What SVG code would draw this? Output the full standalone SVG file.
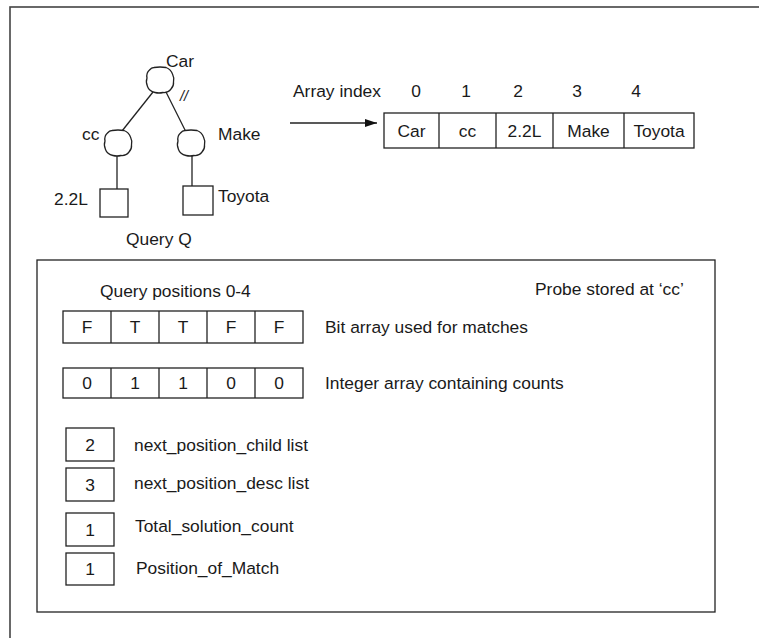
<svg xmlns="http://www.w3.org/2000/svg" xmlns:xlink="http://www.w3.org/1999/xlink" width="759" height="638" viewBox="0 0 759 638">
<style>
text { font-family: "Liberation Sans", Arial, sans-serif; font-size: 17.4px; fill: #1a1a1a; }
.c { text-anchor: middle; }
.box { fill: #fff; stroke: #222; stroke-width: 1.3; }
.ln { fill: none; stroke: #222; stroke-width: 1.3; }
.frame { fill: none; stroke: #444; stroke-width: 1.6; }
</style>
<defs>
<path id="blob" d="M -6,-12.5 Q 0,-13.5 6,-12.5 Q 11,-10.5 12.5,-6 Q 14.5,-2 13.5,2 Q 14,6 11,9 Q 8,13 3,12.5 Q -1,13.5 -5,12.5 Q -11,11 -12.5,6.5 Q -14.5,2 -13,-2 Q -14,-7 -10.5,-10 Q -8.5,-12.5 -6,-12.5 Z"/>
<marker id="ah" viewBox="0 0 12 8" refX="12" refY="4" markerWidth="12" markerHeight="8" markerUnits="userSpaceOnUse" orient="auto">
<path d="M0,0 L12,4 L0,8 Z" fill="#111"/>
</marker>
</defs>
<rect class="frame" x="10" y="7" width="800" height="700"/>

<g id="connectors">
<line class="ln" x1="153" y1="92" x2="122" y2="131"/>
<line class="ln" x1="166" y1="92" x2="186" y2="132"/>
<line class="ln" x1="117" y1="155" x2="117" y2="189"/>
<line class="ln" x1="192" y1="155" x2="192" y2="186"/>
<line class="ln" x1="290" y1="123" x2="377" y2="123" marker-end="url(#ah)"/>
<text x="180" y="101" style="font-size:14.5px;font-style:italic">//</text>
</g>

<g id="node-car">
<use xlink:href="#blob" href="#blob" class="box" transform="translate(160,80)"/>
<text x="166" y="67">Car</text>
</g>
<g id="node-cc">
<use xlink:href="#blob" href="#blob" class="box" transform="translate(118,143)"/>
<text x="82" y="140">cc</text>
</g>
<g id="node-make">
<use xlink:href="#blob" href="#blob" class="box" transform="translate(191,143)"/>
<text x="218" y="140">Make</text>
</g>
<g id="node-22l">
<rect class="box" x="100" y="189" width="28" height="28"/>
<text x="54" y="205">2.2L</text>
</g>
<g id="node-toyota">
<rect class="box" x="183" y="186" width="30" height="29"/>
<text x="218" y="202">Toyota</text>
</g>
<text x="126" y="245">Query Q</text>

<g id="array-index">
<text x="293" y="97">Array index</text>
<text class="c" x="416" y="97">0</text>
<text class="c" x="466" y="97">1</text>
<text class="c" x="518" y="97">2</text>
<text class="c" x="577" y="97">3</text>
<text class="c" x="636" y="97">4</text>
<rect class="box" x="384" y="113" width="310" height="35"/>
<line class="ln" x1="439" y1="113" x2="439" y2="148"/>
<line class="ln" x1="496" y1="113" x2="496" y2="148"/>
<line class="ln" x1="553" y1="113" x2="553" y2="148"/>
<line class="ln" x1="624" y1="113" x2="624" y2="148"/>
<text class="c" x="411.5" y="137">Car</text>
<text class="c" x="467.5" y="137">cc</text>
<text class="c" x="524.5" y="137">2.2L</text>
<text class="c" x="588.5" y="137">Make</text>
<text class="c" x="659" y="137">Toyota</text>
</g>

<g id="probe">
<rect class="box" x="37" y="260" width="678" height="352"/>
<text x="100" y="297">Query positions 0-4</text>
<text x="535" y="295">Probe stored at ‘cc’</text>
</g>

<g id="bit-array">
<rect class="box" x="63" y="311" width="240" height="32"/>
<line class="ln" x1="111" y1="311" x2="111" y2="343"/>
<line class="ln" x1="159" y1="311" x2="159" y2="343"/>
<line class="ln" x1="207" y1="311" x2="207" y2="343"/>
<line class="ln" x1="255" y1="311" x2="255" y2="343"/>
<text class="c" x="87" y="333">F</text>
<text class="c" x="135" y="333">T</text>
<text class="c" x="183" y="333">T</text>
<text class="c" x="231" y="333">F</text>
<text class="c" x="279" y="333">F</text>
<text x="325" y="333">Bit array used for matches</text>
</g>

<g id="int-array">
<rect class="box" x="63" y="368" width="240" height="30"/>
<line class="ln" x1="111" y1="368" x2="111" y2="398"/>
<line class="ln" x1="159" y1="368" x2="159" y2="398"/>
<line class="ln" x1="207" y1="368" x2="207" y2="398"/>
<line class="ln" x1="255" y1="368" x2="255" y2="398"/>
<text class="c" x="87" y="389">0</text>
<text class="c" x="135" y="389">1</text>
<text class="c" x="183" y="389">1</text>
<text class="c" x="231" y="389">0</text>
<text class="c" x="279" y="389">0</text>
<text x="325" y="389">Integer array containing counts</text>
</g>

<g id="child-list">
<rect class="box" x="66" y="428" width="48" height="33"/>
<text class="c" x="90" y="451">2</text>
<text x="134" y="451">next_position_child list</text>
</g>
<g id="desc-list">
<rect class="box" x="66" y="468" width="48" height="33"/>
<text class="c" x="90" y="491">3</text>
<text x="134" y="489">next_position_desc list</text>
</g>
<g id="total-count">
<rect class="box" x="66" y="513" width="48" height="33"/>
<text class="c" x="90" y="536">1</text>
<text x="135" y="532">Total_solution_count</text>
</g>
<g id="position-match">
<rect class="box" x="66" y="553" width="48" height="32"/>
<text class="c" x="90" y="575">1</text>
<text x="136" y="574">Position_of_Match</text>
</g>
</svg>
